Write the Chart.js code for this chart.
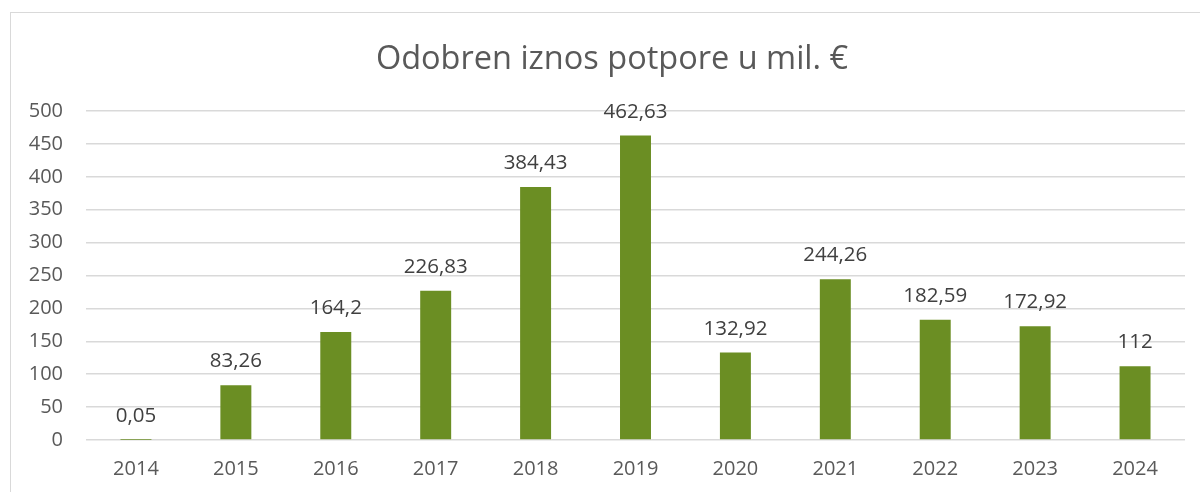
<!DOCTYPE html>
<html>
<head>
<meta charset="utf-8">
<script src="https://cdn.jsdelivr.net/npm/chart.js@4"></script>
<style>
  html, body { margin: 0; padding: 0; background: #fff; }
  #wrap { position: relative; width: 1200px; height: 492px; overflow: hidden; }
  #frame { position: absolute; left: 10px; top: 12px; width: 1300px; height: 600px;
           border-left: 1px solid #d9d9d9; border-top: 1px solid #d9d9d9; }
  canvas { position: absolute; left: 0; top: 0; }
</style>
</head>
<body>
<div id="wrap">
  <div id="frame"></div>
  <canvas id="bar" width="1200" height="492"></canvas>
</div>
<script>
// podaci
const years = ['2014', '2015', '2016', '2017', '2018', '2019', '2020', '2021', '2022', '2023', '2024']
const amounts = [0.05, 83.26, 164.2, 226.83, 384.43, 462.63, 132.92, 244.26, 182.59, 172.92, 112]
const yTicks = [0, 50, 100, 150, 200, 250, 300, 350, 400, 450, 500]
const chartTitle = 'Odobren iznos potpore u mil. €'

const font = "'Open Sans', 'DejaVu Sans', sans-serif"

// oznake vrijednosti iznad stupaca
const valueLabels = {
  id: 'valueLabels',
  afterDatasetsDraw(chart) {
    const ctx = chart.ctx
    const meta = chart.getDatasetMeta(0)
    ctx.save()
    ctx.font = '20.5px ' + font
    ctx.fillStyle = '#404040'
    ctx.textAlign = 'center'
    ctx.textBaseline = 'alphabetic'
    meta.data.forEach((bar, i) => {
      const txt = String(amounts[i]).replace('.', ',')
      ctx.fillText(txt, bar.x, bar.y - 18)
    })
    ctx.restore()
  },
}

// naslov centriran na okvir grafikona (ne na canvas)
const frameTitle = {
  id: 'frameTitle',
  afterDraw(chart) {
    const ctx = chart.ctx
    ctx.save()
    ctx.font = '32.5px ' + font
    ctx.fillStyle = '#595959'
    ctx.textAlign = 'center'
    ctx.textBaseline = 'alphabetic'
    ctx.fillText(chartTitle, 612, 68.5)
    ctx.restore()
  },
}

window.onload = function () {
  const barCtx = document.getElementById('bar')
  const bar = new Chart(barCtx, {
    type: 'bar',
    data: {
      labels: years,
      datasets: [
        {
          label: chartTitle,
          data: amounts,
          backgroundColor: '#6b8e23',
          barPercentage: 0.31,
          categoryPercentage: 1,
        },
      ],
    },
    options: {
      responsive: false,
      animation: false,
      layout: { padding: { left: 0, right: 15, top: 111, bottom: 0 } },
      plugins: {
        legend: { display: false },
        tooltip: { enabled: false },
        title: { display: false },
      },
      scales: {
        x: {
          grid: { display: false, drawTicks: false },
          border: { display: false },
          ticks: { color: '#595959', font: { family: font, size: 20 }, padding: 17 },
          afterFit: (s) => { s.height = 52 },
        },
        y: {
          min: 0,
          max: 500,
          afterBuildTicks: (s) => { s.ticks = yTicks.map((v) => ({ value: v })) },
          grid: { color: '#d9d9d9', lineWidth: 1.5, drawTicks: false },
          border: { display: false },
          ticks: { color: '#595959', font: { family: font, size: 20 }, padding: 23 },
          afterFit: (s) => { s.width = 86 },
        },
      },
    },
    plugins: [valueLabels, frameTitle],
  })
}
</script>
</body>
</html>
